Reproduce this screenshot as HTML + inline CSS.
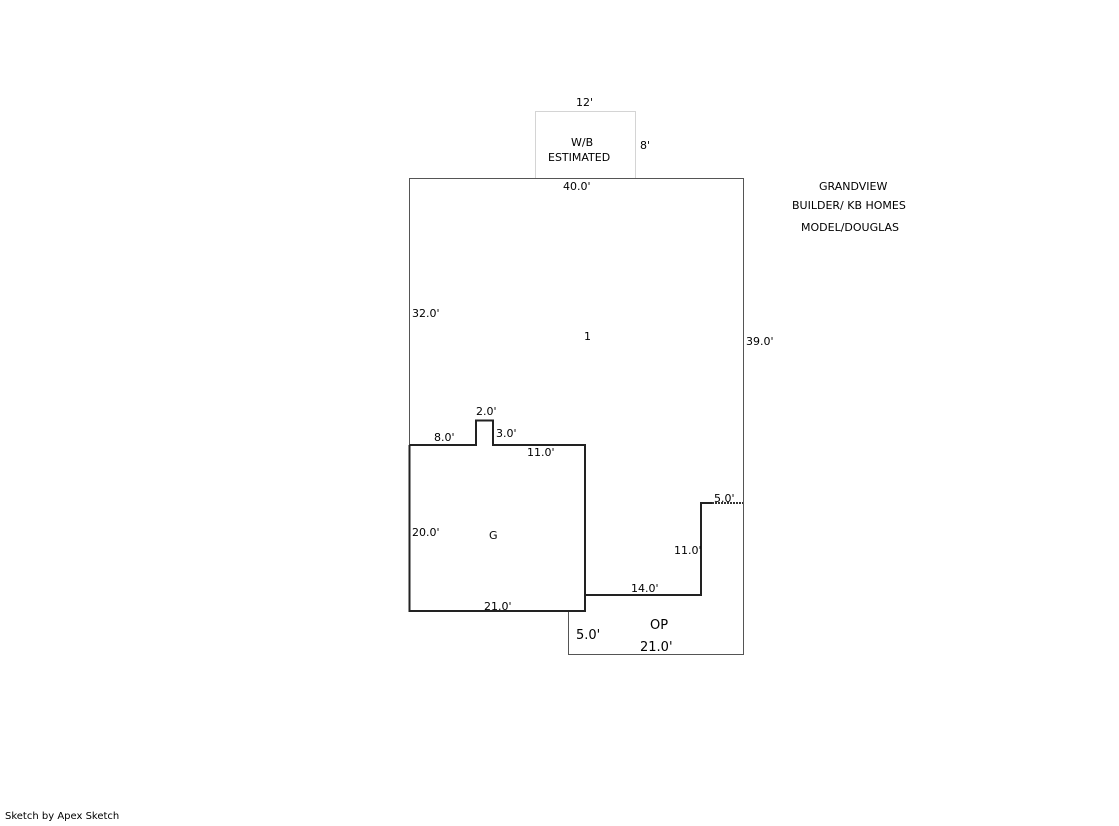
<!DOCTYPE html>
<html><head><style>
body{margin:0;background:#fff;}
svg text{font-family:"DejaVu Sans","Liberation Sans",sans-serif;font-size:11px;fill:#000;}
</style></head><body>
<svg width="1119" height="821" xmlns="http://www.w3.org/2000/svg">
<rect x="535.5" y="111.5" width="100" height="67" fill="none" stroke="#aaa" stroke-dasharray="1,1"/>
<polyline points="409.5,445 409.5,178.5 743.5,178.5 743.5,654.5 568.5,654.5 568.5,611" fill="none" stroke="#555" stroke-width="1"/>
<polyline points="409.5,445 409.5,611 585,611 585,445 493,445 493,420.5 476,420.5 476,445 409.5,445" fill="none" stroke="#222" stroke-width="2"/>
<polyline points="585,595 701,595 701,503 712,503" fill="none" stroke="#222" stroke-width="2"/>
<line x1="712" y1="503" x2="743" y2="503" stroke="#333" stroke-width="2" stroke-dasharray="2,1"/>
<text x="576" y="106">12'</text>
<text x="571" y="146">W/B</text>
<text x="548" y="161">ESTIMATED</text>
<text x="640" y="149">8'</text>
<text x="563" y="190">40.0'</text>
<text x="819" y="190">GRANDVIEW</text>
<text x="792" y="209">BUILDER/ KB HOMES</text>
<text x="801" y="231">MODEL/DOUGLAS</text>
<text x="412" y="317">32.0'</text>
<text x="584" y="340">1</text>
<text x="746" y="345">39.0'</text>
<text x="476" y="415">2.0'</text>
<text x="434" y="441">8.0'</text>
<text x="496" y="437">3.0'</text>
<text x="527" y="456">11.0'</text>
<text x="714" y="502">5.0'</text>
<text x="412" y="536">20.0'</text>
<text x="489" y="539">G</text>
<text x="674" y="554">11.0'</text>
<text x="631" y="592">14.0'</text>
<text x="484" y="610">21.0'</text>
<text x="650" y="629" style="font-size:13px">OP</text>
<text x="576" y="639" style="font-size:13px">5.0'</text>
<text x="640" y="651" style="font-size:13px">21.0'</text>
<text x="5" y="819" style="font-size:10px">Sketch by Apex Sketch</text>
</svg>
</body></html>
